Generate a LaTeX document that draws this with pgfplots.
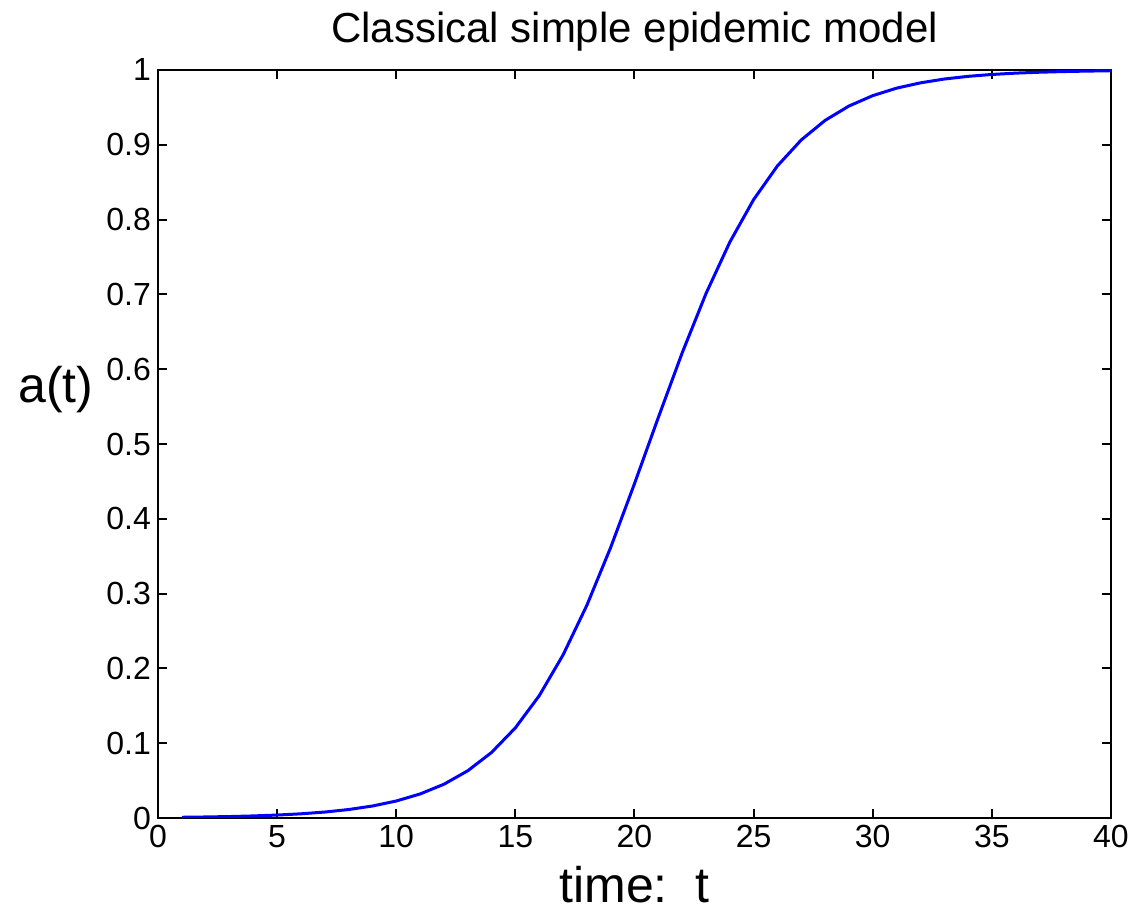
\documentclass[border=0pt]{standalone}
\usepackage{fontspec}
\setmainfont{Liberation Sans}
\setsansfont{Liberation Sans}
\usepackage{pgfplots}
\pgfplotsset{compat=1.18}

\begin{document}
\begin{tikzpicture}
    % page = reference frame, 1 px = 0.5 pt, origin at the axis corner
    \useasboundingbox (-79pt,-47.5pt) rectangle (489pt,409pt);
    \begin{axis}[
        at={(0,0)}, anchor=south west,
        scale only axis,
        width=476.5pt,
        height=374pt,
        xmin=0, xmax=40,
        ymin=0, ymax=1,
        xtick={0,5,...,40},
        ytick={0,0.1,...,1},
        tick align=inside,
        xtick pos=both, ytick pos=both,
        major tick length=4.5pt,
        axis line style={line width=1pt},
        every tick/.style={black, line width=1pt},
        /pgf/number format/assume math mode=true,
        ticklabel style={font=\fontsize{16}{19}\selectfont},
        yticklabel style={/pgf/number format/fixed, /pgf/number format/precision=1},
        title={Classical simple epidemic model},
        every axis title/.style={at={(axis description cs:0.5,1.0374)}, anchor=base, font=\fontsize{21}{25}\selectfont},
        xlabel={time:\ \ t},
        every axis x label/.style={at={(axis description cs:0.5,-0.1136)}, anchor=base, font=\fontsize{25}{30}\selectfont},
        ylabel={a(t)},
        every axis y label/.style={at={(axis description cs:-0.107,0.556)}, anchor=base, font=\fontsize{25}{30}\selectfont},
    ]
        \addplot[blue, line width=1.5pt] coordinates {
            (1,0.00095) (2,0.00136) (3,0.00193) (4,0.00275) (5,0.00392)
            (6,0.00558) (7,0.00794) (8,0.01129) (9,0.0160) (10,0.0227)
            (11,0.0321) (12,0.0451) (13,0.0631) (14,0.0876) (15,0.1205)
            (16,0.1634) (17,0.2179) (18,0.2843) (19,0.3617) (20,0.4470)
            (21,0.5354) (22,0.6217) (23,0.7010) (24,0.7698) (25,0.8267)
            (26,0.8718) (27,0.9065) (28,0.9326) (29,0.9518) (30,0.9657)
            (31,0.9757) (32,0.9828) (33,0.9879) (34,0.9915) (35,0.9940)
            (36,0.9958) (37,0.9970) (38,0.9979) (39,0.9985) (40,0.9990)
        };
    \end{axis}
\end{tikzpicture}
\end{document}
